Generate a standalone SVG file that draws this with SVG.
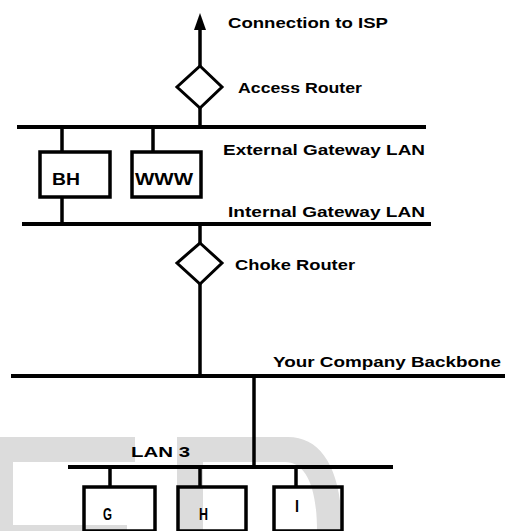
<svg xmlns="http://www.w3.org/2000/svg" width="505" height="531" viewBox="0 0 505 531">
<style>
.bus{stroke:#000;stroke-width:4;fill:none}
.ln{stroke:#000;stroke-width:3.5;fill:none}
.box{stroke:#000;stroke-width:3.5;fill:none}
.dia{stroke:#000;stroke-width:3;fill:#fff}
.lbl{font-family:"Liberation Sans",Arial,sans-serif;font-weight:bold;font-size:15px;fill:#000}
.nl{font-family:"Liberation Sans",Arial,sans-serif;font-weight:bold;font-size:17px;fill:#000}
.sm{font-family:"Liberation Sans",Arial,sans-serif;font-weight:bold;font-size:16px;fill:#000}
.wm{fill:#dcdcdc}
</style>
<rect width="505" height="531" fill="#fff"/>
<g id="watermark">
<path class="wm" d="M0,437 H135 V462 H13 V525 H127 V531 H0 Z"/>
<path class="wm" d="M177,437 H288 C322,437 342,470 342,531 H317 C317,485 305,462 285,462 H203 V531 H177 Z"/>
</g>
<g id="connectors">
<line class="ln" x1="200" y1="26" x2="200" y2="66"/>
<polygon points="200,13 206,30 194,30" fill="#000"/>
<line class="ln" x1="200" y1="108" x2="200" y2="127"/>
<line class="bus" x1="17" y1="127" x2="426" y2="127"/>
<line class="ln" x1="62" y1="127" x2="62" y2="152"/>
<line class="ln" x1="153" y1="127" x2="153" y2="152"/>
<line class="ln" x1="62" y1="197" x2="62" y2="224"/>
<line class="bus" x1="22" y1="224" x2="431" y2="224"/>
<line class="ln" x1="200" y1="224" x2="200" y2="243"/>
<line class="ln" x1="200" y1="284" x2="200" y2="376"/>
<line class="bus" x1="11" y1="376" x2="505" y2="376"/>
<line class="ln" x1="254" y1="376" x2="254" y2="467"/>
<line class="bus" x1="68" y1="467" x2="393" y2="467"/>
<line class="ln" x1="110" y1="467" x2="110" y2="487"/>
<line class="ln" x1="200" y1="467" x2="200" y2="487"/>
<line class="ln" x1="296" y1="467" x2="296" y2="487"/>
</g>
<g id="isp">
<text class="lbl" x="228" y="28" textLength="160" lengthAdjust="spacingAndGlyphs">Connection to ISP</text>
</g>
<g id="access-router">
<polygon class="dia" points="200,66 222,87 200,108 177,87"/>
<text class="lbl" x="238" y="93" textLength="124" lengthAdjust="spacingAndGlyphs">Access Router</text>
</g>
<g id="external-lan">
<text class="lbl" x="223" y="155" textLength="202" lengthAdjust="spacingAndGlyphs">External Gateway LAN</text>
</g>
<g id="bh">
<rect class="box" x="40" y="152" width="70" height="45"/>
<text class="nl" x="52" y="185" textLength="28" lengthAdjust="spacingAndGlyphs">BH</text>
</g>
<g id="www">
<rect class="box" x="132" y="152" width="69" height="45"/>
<text class="nl" x="135" y="185" textLength="58" lengthAdjust="spacingAndGlyphs">WWW</text>
</g>
<g id="internal-lan">
<text class="lbl" x="228" y="217" textLength="197" lengthAdjust="spacingAndGlyphs">Internal Gateway LAN</text>
</g>
<g id="choke-router">
<polygon class="dia" points="200,243 222,263 200,284 177,263"/>
<text class="lbl" x="235" y="270" textLength="120" lengthAdjust="spacingAndGlyphs">Choke Router</text>
</g>
<g id="backbone">
<text class="lbl" x="273" y="367" textLength="228" lengthAdjust="spacingAndGlyphs">Your Company Backbone</text>
</g>
<g id="lan3">
<text class="lbl" x="131" y="457" textLength="59" lengthAdjust="spacingAndGlyphs">LAN 3</text>
</g>
<g id="g">
<rect class="box" x="84" y="487" width="71" height="44"/>
<text class="sm" x="103" y="520" textLength="9" lengthAdjust="spacingAndGlyphs">G</text>
</g>
<g id="h">
<rect class="box" x="178" y="487" width="68" height="44"/>
<text class="sm" x="199" y="520" textLength="9" lengthAdjust="spacingAndGlyphs">H</text>
</g>
<g id="i">
<rect class="box" x="274" y="487" width="68" height="44"/>
<text class="sm" x="295" y="512" textLength="4" lengthAdjust="spacingAndGlyphs">I</text>
</g>
</svg>
